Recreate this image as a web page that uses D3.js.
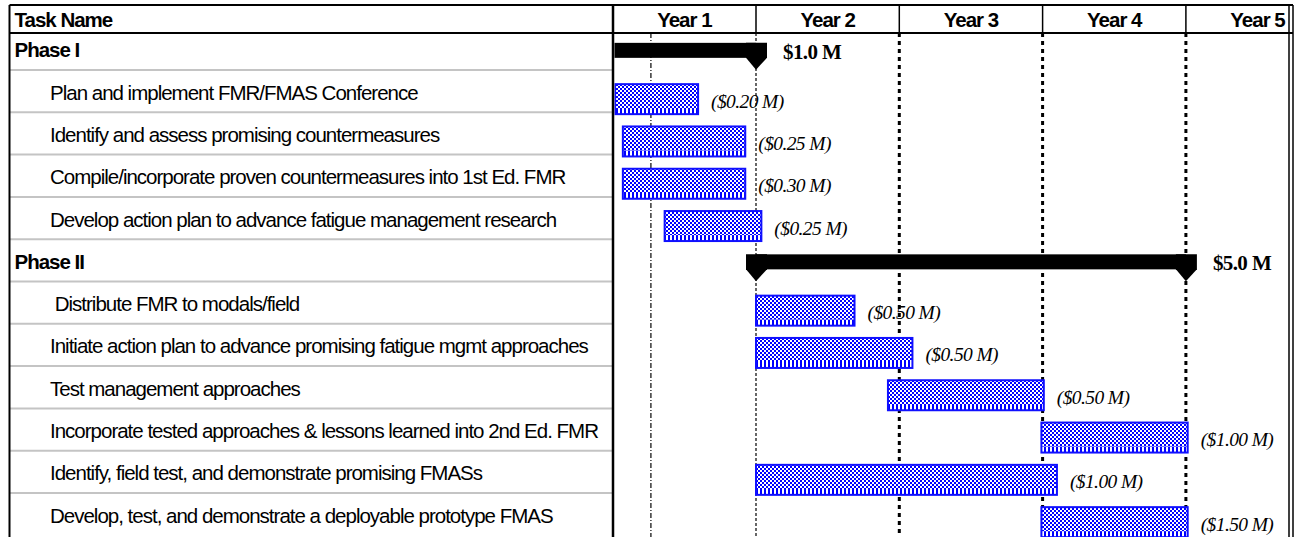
<!DOCTYPE html>
<html>
<head>
<meta charset="utf-8">
<script src="https://cdn.jsdelivr.net/npm/d3@7"></script>
<style>
html, body { margin: 0; padding: 0; background: #fff; }
svg { display: block; }
</style>
</head>
<body>
<svg id="chart" width="1302" height="537"></svg>
<script>
// --- data (months from the start of Year 1) ---
var taskNames = [
    "Phase I",
    "Plan and implement FMR/FMAS Conference",
    "Identify and assess promising countermeasures",
    "Compile/incorporate proven countermeasures into 1st Ed. FMR",
    "Develop action plan to advance fatigue management research",
    "Phase II",
    " Distribute FMR to modals/field",
    "Initiate action plan to advance promising fatigue mgmt approaches",
    "Test management approaches",
    "Incorporate tested approaches & lessons learned into 2nd Ed. FMR",
    "Identify, field test, and demonstrate promising FMASs",
    "Develop, test, and demonstrate a deployable prototype FMAS"
];
var isSummary = [true, false, false, false, false, true, false, false, false, false, false, false];
var taskStart = [-1, 0.2, 0.85, 0.85, 4.35, 12, 12, 12, 23.05, 35.9, 12, 35.9];
var taskEnd = [12, 7.15, 11.1, 11.1, 12.45, 48, 20.25, 25.1, 36.1, 48.15, 37.2, 48.15];
var costLabels = ["$1.0 M", "($0.20 M)", "($0.25 M)", "($0.30 M)", "($0.25 M)", "$5.0 M",
    "($0.50 M)", "($0.50 M)", "($0.50 M)", "($1.00 M)", "($1.00 M)", "($1.50 M)"];
var yearLabels = ["Year 1", "Year 2", "Year 3", "Year 4", "Year 5"];
var statusMonth = 3.2;

var svg = d3.select("#chart");
var W = 1302, H = 537;
var left = 9.5, colRight = 613, chartRight = 1289;
var headTop = 5, headBottom = 33;

var x = d3.scaleLinear().domain([0, 60]).range([612.7, 612.7 + 5 * 143.3]);
var y = d3.scaleBand().domain(d3.range(taskNames.length)).range([27.7, 27.7 + taskNames.length * 42.3]);
var step = y.step();

var defs = svg.append("defs");
var chk = defs.append("pattern").attr("id", "chk")
    .attr("width", 4).attr("height", 4).attr("patternUnits", "userSpaceOnUse");
chk.append("rect").attr("width", 4).attr("height", 4).attr("fill", "#fff");
chk.append("rect").attr("width", 2).attr("height", 2).attr("fill", "#0000ff");
chk.append("rect").attr("x", 2).attr("y", 2).attr("width", 2).attr("height", 2).attr("fill", "#0000ff");
var stripe = defs.append("pattern").attr("id", "stripe")
    .attr("width", 4).attr("height", 4).attr("patternUnits", "userSpaceOnUse");
stripe.append("rect").attr("width", 4).attr("height", 4).attr("fill", "#fff");
stripe.append("rect").attr("width", 2).attr("height", 4).attr("fill", "#0000ff");

defs.append("clipPath").attr("id", "chartClip").append("rect")
    .attr("x", colRight + 1.5).attr("y", headBottom).attr("width", chartRight - colRight - 2.5).attr("height", H - headBottom);
defs.append("clipPath").attr("id", "headClip").append("rect")
    .attr("x", colRight + 1.5).attr("y", headTop).attr("width", chartRight - colRight - 2.5).attr("height", headBottom - headTop);

// row separators in the task column
svg.append("g").selectAll("line").data(d3.range(1, taskNames.length)).join("line")
    .attr("x1", left).attr("x2", colRight)
    .attr("y1", function(i) { return y(i); }).attr("y2", function(i) { return y(i); })
    .attr("stroke", "#c4c4c4").attr("stroke-width", 2);

// task names
svg.append("g").selectAll("text").data(taskNames).join("text")
    .attr("x", function(d, i) { return isSummary[i] ? 14.5 : 50; })
    .attr("y", function(d, i) { return y(i) + step / 2 + 1; })
    .attr("dominant-baseline", "central")
    .style("white-space", "pre")
    .attr("font-family", "'Liberation Sans', Arial, sans-serif")
    .attr("font-size", 20.5)
    .attr("letter-spacing", -1)
    .attr("font-weight", function(d, i) { return isSummary[i] ? "bold" : "normal"; })
    .text(function(d) { return d; });

// gridlines
var chart = svg.append("g").attr("clip-path", "url(#chartClip)");
chart.append("line")
    .attr("x1", x(statusMonth)).attr("x2", x(statusMonth))
    .attr("y1", headBottom).attr("y2", H)
    .attr("stroke", "#000").attr("stroke-width", 1.2).attr("stroke-dasharray", "5,2,1,2");
chart.selectAll("line.grid").data([12, 24, 36, 48]).join("line").attr("class", "grid")
    .attr("x1", function(d) { return x(d); }).attr("x2", function(d) { return x(d); })
    .attr("y1", headBottom).attr("y2", H)
    .attr("stroke", "#000")
    .attr("stroke-width", function(d, i) { return i === 0 ? 1.2 : 3; })
    .attr("stroke-dasharray", function(d, i) { return i === 0 ? "3,2" : "4,4"; });

// task bars
var tasks = d3.range(taskNames.length).filter(function(i) { return !isSummary[i]; });
var barH = 30;
function barTop(i) { return y(i) + step / 2 + 8 - barH / 2; }
chart.selectAll("rect.bar").data(tasks).join("rect").attr("class", "bar")
    .attr("x", function(i) { return x(taskStart[i]); })
    .attr("y", barTop)
    .attr("width", function(i) { return x(taskEnd[i]) - x(taskStart[i]); })
    .attr("height", barH)
    .attr("fill", "url(#chk)");
chart.selectAll("rect.barfoot").data(tasks).join("rect").attr("class", "barfoot")
    .attr("x", function(i) { return x(taskStart[i]); })
    .attr("y", function(i) { return barTop(i) + barH - 6; })
    .attr("width", function(i) { return x(taskEnd[i]) - x(taskStart[i]); })
    .attr("height", 6)
    .attr("fill", "url(#stripe)");
chart.selectAll("rect.barline").data(tasks).join("rect").attr("class", "barline")
    .attr("x", function(i) { return x(taskStart[i]); })
    .attr("y", barTop)
    .attr("width", function(i) { return x(taskEnd[i]) - x(taskStart[i]); })
    .attr("height", barH)
    .attr("fill", "none").attr("stroke", "#1010ff").attr("stroke-width", 2);

chart.selectAll("text.cost").data(tasks).join("text").attr("class", "cost")
    .attr("x", function(i) { return x(taskEnd[i]) + 13; })
    .attr("y", function(i) { return barTop(i) + barH / 2 + 2; })
    .attr("dominant-baseline", "central")
    .attr("font-family", "'Liberation Serif', 'Times New Roman', serif")
    .attr("font-style", "italic")
    .attr("font-size", 19.5)
    .attr("letter-spacing", -0.6)
    .text(function(i) { return costLabels[i]; });

// summary bars with down-pointing end caps
var phases = d3.range(taskNames.length).filter(function(i) { return isSummary[i]; });
function capPath(cx, top, h) {
    return "M" + (cx - 10) + "," + top + "H" + (cx + 11) + "V" + (top + h) +
        "L" + cx + "," + (top + h + 12) + "L" + (cx - 10) + "," + (top + h) + "Z";
}
phases.forEach(function(i) {
    var top = y(i) + step / 2 - 6, h = 15;
    chart.append("rect")
        .attr("x", x(taskStart[i])).attr("y", top)
        .attr("width", x(taskEnd[i]) - x(taskStart[i])).attr("height", h)
        .attr("fill", "#000");
    [taskStart[i], taskEnd[i]].forEach(function(m) {
        chart.append("path").attr("d", capPath(x(m), top, h)).attr("fill", "#000");
    });
    chart.append("text")
        .attr("x", x(taskEnd[i]) + 27)
        .attr("y", y(i) + step / 2 + 3)
        .attr("dominant-baseline", "central")
        .attr("font-family", "'Liberation Serif', 'Times New Roman', serif")
        .attr("font-weight", "bold")
        .attr("font-size", 21)
        .attr("letter-spacing", -0.6)
        .text(costLabels[i]);
});

// header
var head = svg.append("g");
head.append("text").attr("x", 14.5).attr("y", (headTop + headBottom) / 2)
    .attr("dominant-baseline", "central")
    .attr("font-family", "'Liberation Sans', Arial, sans-serif")
    .attr("font-size", 20.5).attr("font-weight", "bold").attr("letter-spacing", -1)
    .text("Task Name");
var yearHead = head.append("g").attr("clip-path", "url(#headClip)");
yearHead.selectAll("text").data(yearLabels).join("text")
    .attr("x", function(d, i) { return x(i * 12 + 6); })
    .attr("y", (headTop + headBottom) / 2)
    .attr("dominant-baseline", "central")
    .attr("text-anchor", "middle")
    .attr("font-family", "'Liberation Sans', Arial, sans-serif")
    .attr("font-size", 20.5).attr("font-weight", "bold").attr("letter-spacing", -1)
    .text(function(d) { return d; });
head.selectAll("line.sep").data([12, 24, 36, 48]).join("line").attr("class", "sep")
    .attr("x1", function(d) { return x(d); }).attr("x2", function(d) { return x(d); })
    .attr("y1", headTop).attr("y2", headBottom)
    .attr("stroke", "#000").attr("stroke-width", 1.5);

// frame
var frame = svg.append("g").attr("stroke", "#000").attr("fill", "none");
frame.append("line").attr("x1", left).attr("x2", chartRight + 4).attr("y1", headTop).attr("y2", headTop).attr("stroke-width", 2);
frame.append("line").attr("x1", left).attr("x2", chartRight + 4).attr("y1", headBottom).attr("y2", headBottom).attr("stroke-width", 2);
frame.append("line").attr("x1", left).attr("x2", left).attr("y1", headTop).attr("y2", H).attr("stroke-width", 2);
frame.append("line").attr("x1", colRight).attr("x2", colRight).attr("y1", headTop).attr("y2", H).attr("stroke-width", 2.5);
frame.append("line").attr("x1", chartRight).attr("x2", chartRight).attr("y1", headTop).attr("y2", H).attr("stroke-width", 1.5);
frame.append("line").attr("x1", chartRight + 4).attr("x2", chartRight + 4).attr("y1", headTop).attr("y2", H).attr("stroke-width", 1.5);
</script>
</body>
</html>
